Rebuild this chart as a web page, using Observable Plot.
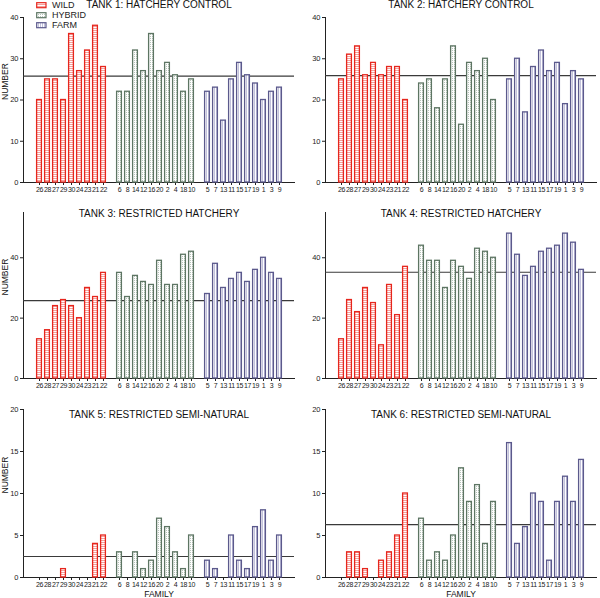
<!DOCTYPE html>
<html>
<head>
<meta charset="utf-8">
<script src="https://cdn.jsdelivr.net/npm/d3@7"></script>
<script src="https://cdn.jsdelivr.net/npm/@observablehq/plot@0.6"></script>
<style>
  html, body { margin: 0; padding: 0; background: #fff; }
  #root { position: relative; width: 600px; height: 598px; overflow: hidden; font-family: "Liberation Sans", Arial, sans-serif; }
  .panel { position: absolute; }
  .panel [aria-label^="x-axis"] text { letter-spacing: -0.45px; font-size: 7px; }
  .panel [aria-label^="y-axis"] text { font-size: 7.5px; }
  .legend { position: absolute; left: 36px; top: 0; font-size: 9px; color: #222; }
  .legend .row { position: absolute; left: 0; height: 9px; white-space: nowrap; }
  .legend svg { position: absolute; left: 0; top: 1.5px; }
  .legend span { position: absolute; left: 16px; top: 0; line-height: 9px; }
</style>
</head>
<body>
<svg width="0" height="0" style="position:absolute">
  <defs>
    <pattern id="pat-wild" width="4" height="2" patternUnits="userSpaceOnUse">
      <rect width="4" height="2" fill="#ffffff"/>
      <rect width="4" height="1" fill="#f5a19c"/>
    </pattern>
    <pattern id="pat-hybrid" width="2" height="2" patternUnits="userSpaceOnUse">
      <rect width="2" height="2" fill="#ffffff"/>
      <rect width="1" height="1" fill="#b8c5ba"/>
    </pattern>
    <pattern id="pat-farm" width="2" height="4" patternUnits="userSpaceOnUse">
      <rect width="2" height="4" fill="#ffffff"/>
      <rect width="1" height="4" fill="#c3c2dc"/>
    </pattern>
  </defs>
</svg>
<div id="root"></div>
<script>
// ---- categories ----
const wildFamilies   = ["26","28","27","29","30","24","23","21","22"];
const hybridFamilies = ["6","8","14","12","16","20","2","4","18","10"];
const farmFamilies   = ["5","7","13","11","15","17","19","1","3","9"];
const groupNames = ["WILD", "HYBRID", "FARM"];

// ---- series values (number per family) ----
const tank1Wild   = [20, 25, 25, 20, 36, 27, 32, 38, 28];
const tank1Hybrid = [22, 22, 32, 27, 36, 27, 29, 26, 22, 25];
const tank1Farm   = [22, 23, 15, 25, 29, 26, 24, 20, 22, 23];

const tank2Wild   = [25, 31, 33, 26, 29, 26, 28, 28, 20];
const tank2Hybrid = [24, 25, 18, 25, 33, 14, 29, 27, 30, 20];
const tank2Farm   = [25, 30, 17, 28, 32, 27, 29, 19, 27, 25];

const tank3Wild   = [13, 16, 24, 26, 24, 20, 30, 27, 35];
const tank3Hybrid = [35, 27, 34, 32, 31, 39, 31, 31, 41, 42];
const tank3Farm   = [28, 38, 30, 33, 35, 32, 36, 40, 35, 33];

const tank4Wild   = [13, 26, 22, 30, 25, 11, 31, 21, 37];
const tank4Hybrid = [44, 39, 39, 30, 39, 37, 33, 43, 42, 40];
const tank4Farm   = [48, 41, 34, 37, 42, 43, 44, 48, 45, 36];

const tank5Wild   = [0, 0, 0, 1, 0, 0, 0, 4, 5];
const tank5Hybrid = [3, 0, 3, 1, 2, 7, 6, 3, 1, 5];
const tank5Farm   = [2, 1, 0, 5, 2, 1, 6, 8, 2, 5];

const tank6Wild   = [0, 3, 3, 1, 0, 2, 3, 5, 10];
const tank6Hybrid = [7, 2, 3, 2, 5, 13, 9, 11, 4, 9];
const tank6Farm   = [16, 4, 6, 10, 9, 2, 9, 12, 9, 14];

// reference (mean) line per tank
const meanLine = [25.8, 25.9, 25.8, 35.2, 2.5, 6.3];

const titles = [
  "TANK 1: HATCHERY CONTROL", "TANK 2: HATCHERY CONTROL",
  "TANK 3: RESTRICTED HATCHERY", "TANK 4: RESTRICTED HATCHERY",
  "TANK 5: RESTRICTED SEMI-NATURAL", "TANK 6: RESTRICTED SEMI-NATURAL"
];
const yMax = [40, 40, 55, 55, 20, 20];
const yTicks1 = [0, 10, 20, 30, 40];
const yTicks2 = [0, 20, 40];
const yTicks3 = [0, 5, 10, 15, 20];

// ---- build ----
const tanks = [
  [tank1Wild, tank1Hybrid, tank1Farm],
  [tank2Wild, tank2Hybrid, tank2Farm],
  [tank3Wild, tank3Hybrid, tank3Farm],
  [tank4Wild, tank4Hybrid, tank4Farm],
  [tank5Wild, tank5Hybrid, tank5Farm],
  [tank6Wild, tank6Hybrid, tank6Farm]
];
const yTicksByRow = [yTicks1, yTicks2, yTicks3];
const familyLists = [wildFamilies, hybridFamilies, farmFamilies];
const slots = [...wildFamilies, "gapA", ...hybridFamilies, "gapB", ...farmFamilies];
const allFamilies = [...wildFamilies, ...hybridFamilies, ...farmFamilies];

const strokes = {WILD: "#e6261d", HYBRID: "#5d7563", FARM: "#5b598c"};
const fills = {WILD: "url(#pat-wild)", HYBRID: "url(#pat-hybrid)", FARM: "url(#pat-farm)"};

const rowTop = [0, 196, 392];
const rowHeight = [196, 196, 206];
const rowMarginTop = [17, 16, 17];
const rowMarginBottom = [14, 14, 21];
const titleDy = [-13, 1.5, 5];

const root = document.getElementById("root");
const textFont = "'Liberation Sans', Arial, sans-serif";

tanks.forEach((groups, i) => {
  const row = Math.floor(i / 2), col = i % 2;
  const marks = [];
  marks.push(Plot.ruleY([meanLine[i]], {stroke: "#3a3a3a", strokeWidth: 1.2}));
  groups.forEach((vals, g) => {
    const name = groupNames[g];
    const data = familyLists[g].map((f, k) => ({family: f, n: vals[k]})).filter(d => d.n > 0);
    marks.push(Plot.barY(data, {
      x: "family", y: "n",
      fill: fills[name], stroke: strokes[name], strokeWidth: 1.3,
      insetLeft: 0.6, insetRight: 0.6
    }));
  });
  marks.push(Plot.text([titles[i]], {
    frameAnchor: "top", dy: titleDy[row], lineAnchor: "middle",
    fontSize: 10, fontFamily: textFont, fill: "#111", text: d => d
  }));
  if (col === 0) {
    marks.push(Plot.text(["NUMBER"], {
      frameAnchor: "left", dx: -18, rotate: -90, lineAnchor: "middle",
      fontSize: 8.5, fontFamily: textFont, fill: "#111", text: d => d
    }));
  }
  if (row === 2) {
    marks.push(Plot.text(["FAMILY"], {
      frameAnchor: "bottom", dy: 17, lineAnchor: "middle",
      fontSize: 8.5, fontFamily: textFont, fill: "#111", text: d => d
    }));
  }
  const chart = Plot.plot({
    width: 300,
    height: rowHeight[row],
    marginLeft: col === 0 ? 23 : 25,
    marginRight: col === 0 ? 6 : 4,
    marginTop: rowMarginTop[row],
    marginBottom: rowMarginBottom[row],
    style: {fontFamily: textFont, fontSize: "7px", background: "transparent", color: "#222", overflow: "visible"},
    x: {
      domain: slots, paddingInner: 0.3, paddingOuter: 0.15,
      ticks: allFamilies, tickSize: 3, tickPadding: 1.5, label: null, line: true
    },
    y: {
      domain: [0, yMax[i]], ticks: yTicksByRow[row], tickSize: 3, tickPadding: 2,
      label: null, line: true
    },
    marks
  });
  chart.classList.add("panel");
  chart.style.left = (col * 300) + "px";
  chart.style.top = rowTop[row] + "px";
  chart.style.position = "absolute";
  root.appendChild(chart);
});

// legend (top-left, over tank 1)
const legend = document.createElement("div");
legend.className = "legend";
groupNames.forEach((name, k) => {
  const r = document.createElement("div");
  r.className = "row";
  r.style.top = (0.5 + k * 10) + "px";
  r.innerHTML = `<svg width="11" height="7"><rect x="0.7" y="0.7" width="9.3" height="5" fill="${fills[name]}" stroke="${strokes[name]}" stroke-width="1.2"/></svg><span>${name}</span>`;
  legend.appendChild(r);
});
root.appendChild(legend);
</script>
</body>
</html>
